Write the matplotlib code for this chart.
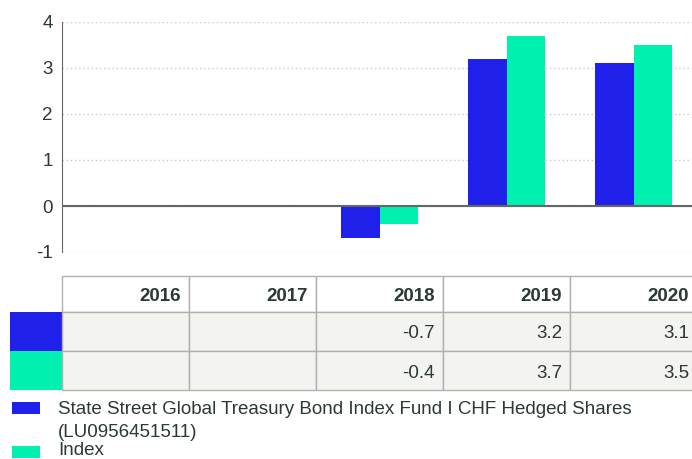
import matplotlib.pyplot as plt
import matplotlib.patches as mpatches
import numpy as np

# data
years = ['2016', '2017', '2018', '2019', '2020']
fund = [None, None, -0.7, 3.2, 3.1]
index = [None, None, -0.4, 3.7, 3.5]
fund_label = 'State Street Global Treasury Bond Index Fund I CHF Hedged Shares\n(LU0956451511)'
index_label = 'Index'
yticks = [-1, 0, 1, 2, 3, 4]

blue = '#1f20ea'
green = '#00f0b0'
txt = '#2b3a33'
W, H = 692, 459
fs = 13.5

plt.rcParams['font.family'] = ['Liberation Sans', 'DejaVu Sans']
plt.rcParams['axes.unicode_minus'] = False

fig = plt.figure(figsize=(W / 100, H / 100), dpi=100)

col0 = 62
cw = 127  # column width in px, the last column runs a bit past the edge

# bar chart area
ax = fig.add_axes([col0 / W, 1 - 252 / H, cw * len(years) / W, 230 / H])
x = np.arange(len(years))
bw = 0.3
f = [np.nan if v is None else v for v in fund]
g = [np.nan if v is None else v for v in index]
ax.bar(x - bw / 2, f, bw, color=blue, zorder=3)
ax.bar(x + bw / 2, g, bw, color=green, zorder=3)
ax.set_xlim(-0.5, len(years) - 0.5)
ax.set_ylim(-1, 4)
ax.set_yticks(yticks)
ax.tick_params(axis='y', length=0, pad=6.5, labelsize=fs, labelcolor=txt)
ax.set_xticks([])
for s in ['top', 'right', 'bottom']:
    ax.spines[s].set_visible(False)
ax.spines['left'].set_color('#666666')
ax.grid(axis='y', linestyle=(0, (1, 2)), color='#c8c8c8', linewidth=1)
ax.axhline(0, color='#666666', linewidth=1.5, zorder=4)

# table area (pixel coordinates)
tx = fig.add_axes([0, 0, 1, 1])
tx.set_xlim(0, W)
tx.set_ylim(H, 0)
tx.axis('off')

rows = [276, 312, 351, 390]
border = '#b0b0b0'

for i, yr in enumerate(years):
    x0 = col0 + i * cw
    tx.add_patch(mpatches.Rectangle((x0, rows[0]), cw, rows[1] - rows[0],
                                    facecolor='white', edgecolor=border, lw=1))
    tx.text(x0 + cw - 8, (rows[0] + rows[1]) / 2 + 7, yr, ha='right',
            va='baseline', fontsize=fs, fontweight='bold', color=txt)

for r, (series, col) in enumerate([(fund, blue), (index, green)]):
    y0 = rows[r + 1]
    h = rows[r + 2] - y0
    tx.add_patch(mpatches.Rectangle((10, y0), col0 - 10, h, facecolor=col,
                                    edgecolor='none'))
    for i, v in enumerate(series):
        x0 = col0 + i * cw
        tx.add_patch(mpatches.Rectangle((x0, y0), cw, h, facecolor='#f3f3ef',
                                        edgecolor=border, lw=1))
        if v is not None:
            tx.text(x0 + cw - 8, y0 + h / 2 + 7, f'{v:.1f}', ha='right',
                    va='baseline', fontsize=fs, color=txt)

# legend
tx.add_patch(mpatches.Rectangle((12, 402), 28, 12, facecolor=blue, edgecolor='none'))
for k, line in enumerate(fund_label.split('\n')):
    tx.text(58, 414 + k * 23, line, ha='left', va='baseline', fontsize=fs,
            color=txt)
tx.add_patch(mpatches.Rectangle((12, 446), 28, 12, facecolor=green, edgecolor='none'))
tx.text(58, 455, index_label, ha='left', va='baseline', fontsize=fs, color=txt)

fig.savefig('out.png', dpi=100)
